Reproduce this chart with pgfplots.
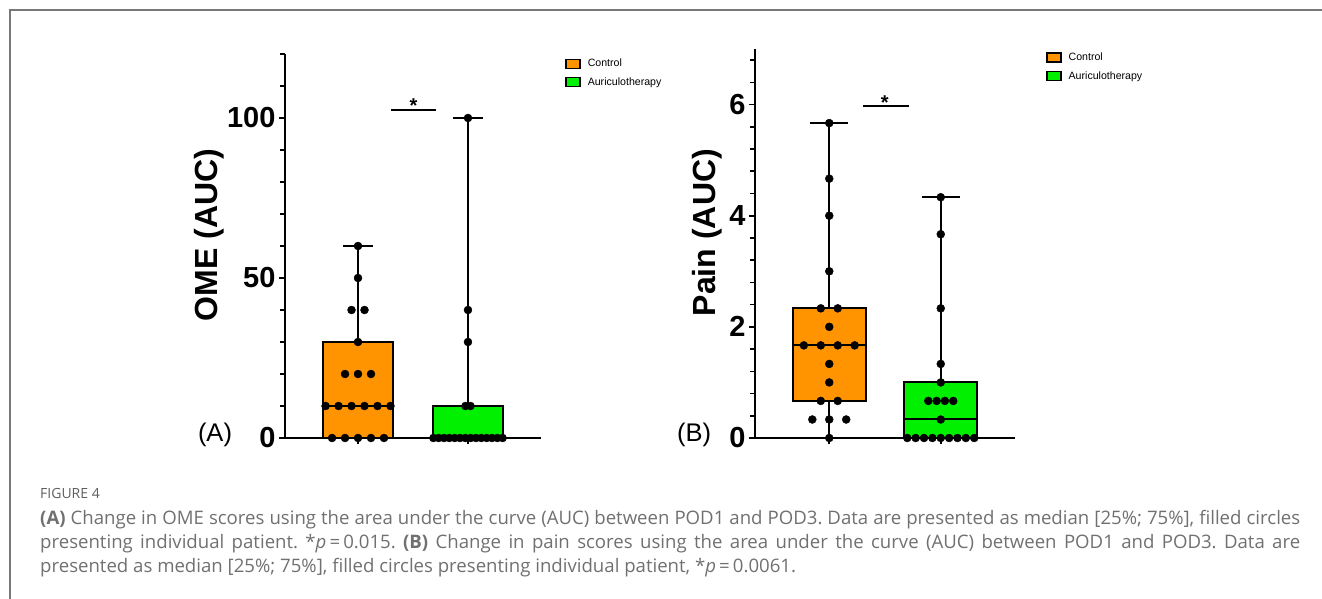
\documentclass[border=0pt]{standalone}
\usepackage{fontspec}
\setmainfont{Liberation Sans}
\newfontfamily\capfont{Open Sans}
\usepackage{pgfplots}
\pgfplotsset{compat=1.18}
\usepgfplotslibrary{statistics}

\definecolor{ctrl}{RGB}{255,148,0}
\definecolor{auri}{RGB}{0,240,0}
\definecolor{capgray}{RGB}{112,112,112}
\definecolor{framegray}{RGB}{120,120,120}

\pgfplotsset{
  boxpanel/.style={
    scale only axis, axis lines=left, axis line style={-, line width=2pt},
    clip=false, xtick={1,2}, xticklabels={}, tick align=outside,
    major tick length=6pt, minor tick length=5pt,
    tick style={line width=1.6pt, black},
    ticklabel style={font=\fontsize{29}{29}\selectfont\bfseries},
    /pgf/number format/assume math mode=true,
    boxplot/draw direction=y,
    legend image code/.code={\draw[##1, line width=1.5pt] (0pt,-4.5pt) rectangle (14pt,4.5pt);},
    legend style={draw=none, fill=none, font=\fontsize{10.6}{12}\selectfont,
      anchor=north west, row sep=5pt, column sep=5pt, inner sep=0pt, cells={anchor=west}},
  },
  dots/.style={only marks, mark=*, mark size=4pt, black, forget plot},
  box/.style={draw=black, line width=2pt, forget plot},
}

\begin{document}
\frenchspacing
\begin{tikzpicture}
\useasboundingbox (0,0) rectangle (1322pt,-599pt);
\draw[framegray, line width=1.5pt] (10pt,-599pt) -- (10pt,-10pt) -- (1322pt,-10pt);

% panel A: OME
\begin{axis}[boxpanel, at={(285pt,-438pt)}, anchor=south west,
  width=256pt, height=384pt,
  xmin=0.336, xmax=2.664, ymin=0, ymax=120,
  ytick={0,50,100}, minor ytick={10,20,30,40,60,70,80,90,110,120},
  legend style={at={(axis description cs:1.094,0.992)}}]
  \addlegendimage{fill=ctrl, draw=black}
  \addlegendentry{Control}
  \addlegendimage{fill=auri, draw=black}
  \addlegendentry{Auriculotherapy}
  \addplot[box, fill=ctrl, boxplot prepared={draw position=1, lower whisker=0,
    lower quartile=0, median=10, upper quartile=30, upper whisker=60,
    box extend=0.645, whisker extend=0.27}] coordinates {};
  \addplot[box, fill=auri, boxplot prepared={draw position=2, lower whisker=0,
    lower quartile=0, median=0, upper quartile=10, upper whisker=100,
    box extend=0.645, whisker extend=0.27}] coordinates {};
  % control patients
  \addplot[dots] coordinates {
    (0.764,0) (0.882,0) (1,0) (1.118,0) (1.236,0)
    (0.705,10) (0.823,10) (0.941,10) (1.059,10) (1.177,10) (1.295,10)
    (0.882,20) (1,20) (1.118,20)
    (1,30) (0.941,40) (1.059,40) (1,50) (1,60)};
  % auriculotherapy patients
  \addplot[dots] coordinates {
    (1.685,0) (1.733,0) (1.782,0) (1.830,0) (1.879,0) (1.927,0) (1.976,0)
    (2.024,0) (2.073,0) (2.121,0) (2.170,0) (2.218,0) (2.267,0) (2.315,0)
    (1.977,10) (2.023,10) (2,30) (2,40) (2,100)};
  \draw[line width=2pt] (axis cs:1.30,102.5) -- (axis cs:1.709,102.5);
  \node[anchor=base, font=\fontsize{20}{20}\selectfont\bfseries] at (axis cs:1.505,101.6) {*};
  \node[rotate=90, font=\fontsize{32}{32}\selectfont\bfseries] at (axis description cs:-0.297,0.529) {OME (AUC)};
\end{axis}

% panel B: pain
\begin{axis}[boxpanel, at={(755pt,-438pt)}, anchor=south west,
  width=260pt, height=389pt,
  xmin=0.334, xmax=2.666, ymin=0, ymax=7,
  ytick={0,2,4,6}, minor ytick={0.4,0.8,1.2,1.6,2.4,2.8,3.2,3.6,4.4,4.8,5.2,5.6,6.4,6.8},
  legend style={at={(axis description cs:1.119,0.995)}}]
  \addlegendimage{fill=ctrl, draw=black}
  \addlegendentry{Control}
  \addlegendimage{fill=auri, draw=black}
  \addlegendentry{Auriculotherapy}
  \addplot[box, fill=ctrl, boxplot prepared={draw position=1, lower whisker=0,
    lower quartile=0.667, median=1.667, upper quartile=2.333, upper whisker=5.667,
    box extend=0.655, whisker extend=0.34}] coordinates {};
  \addplot[box, fill=auri, boxplot prepared={draw position=2, lower whisker=0,
    lower quartile=0, median=0.333, upper quartile=1, upper whisker=4.333,
    box extend=0.655, whisker extend=0.34}] coordinates {};
  \addplot[dots] coordinates {
    (1,0) (0.848,0.333) (1,0.333) (1.152,0.333)
    (0.924,0.667) (1.076,0.667) (1,1) (1,1.333)
    (0.772,1.667) (0.924,1.667) (1.076,1.667) (1.228,1.667)
    (1,2) (0.924,2.333) (1.076,2.333)
    (1,3) (1,4) (1,4.667) (1,5.667)};
  \addplot[dots] coordinates {
    (1.700,0) (1.775,0) (1.850,0) (1.925,0) (2,0) (2.075,0) (2.150,0) (2.225,0) (2.300,0)
    (2,0.333) (1.888,0.667) (1.963,0.667) (2.037,0.667) (2.112,0.667)
    (2,1) (2,1.333) (2,2.333) (2,3.667) (2,4.333)};
  \draw[line width=2pt] (axis cs:1.30,5.98) -- (axis cs:1.713,5.98);
  \node[anchor=base, font=\fontsize{20}{20}\selectfont\bfseries] at (axis cs:1.498,5.906) {*};
  \node[rotate=90, font=\fontsize{32}{32}\selectfont\bfseries] at (axis description cs:-0.185,0.528) {Pain (AUC)};
\end{axis}

\node[font=\fontsize{25.5}{26}\selectfont] at (215pt,-435pt) {(A)};
\node[font=\fontsize{25.5}{26}\selectfont] at (694pt,-435pt) {(B)};

\node[anchor=west, inner sep=0pt, text=capgray!85!black, font=\capfont\fontsize{14}{16}\selectfont] at (40pt,-493pt) {FIGURE 4};
\node[anchor=north west, inner sep=0pt, text width=1260pt, align=justify, text=capgray,
  font=\capfont\fontsize{18.6}{24}\selectfont] at (40pt,-510pt)
  {\textbf{(A)} Change in OME scores using the area under the curve (AUC) between POD1 and POD3. Data are presented as median [25\%; 75\%], filled circles\linebreak
   presenting individual patient. *\textit{p}\,=\,0.015. \textbf{(B)} Change in pain scores using the area under the curve (AUC) between POD1 and POD3. Data are\linebreak
   presented as median [25\%; 75\%], filled circles presenting individual patient, *\textit{p}\,=\,0.0061.};
\end{tikzpicture}
\end{document}
